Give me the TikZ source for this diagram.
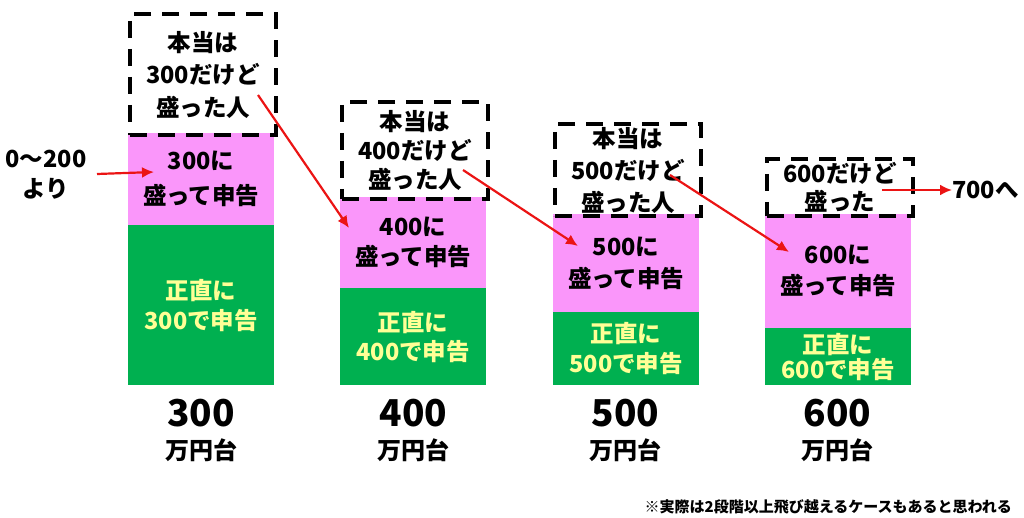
\documentclass[tikz,border=0pt]{standalone}
\usepackage{fontspec}
\newfontfamily\jp{Noto Sans CJK JP}
\usetikzlibrary{arrows.meta}
\definecolor{pinkc}{RGB}{250,150,250}
\definecolor{greenc}{RGB}{0,176,80}
\definecolor{yelc}{RGB}{255,255,150}
\definecolor{redc}{RGB}{235,20,20}
\tikzset{
  boxbase/.style={anchor=north west, inner sep=0pt, align=center, minimum width=146pt,
    font=\jp\bfseries\fontsize{23.5}{#1}\selectfont},
  pinkbox/.style={boxbase=#1, fill=pinkc, text=black},
  greenbox/.style={boxbase=#1, fill=greenc, text=yelc},
  dbox/.style={boxbase=#1, draw=black, line width=4pt, dash pattern=on 17pt off 11pt, text=black},
  redarrow/.style={draw=redc, line width=2.2pt, -{Latex[length=12pt,width=11pt]}},
  biglabel/.style={font=\jp\bfseries\fontsize{37}{40}\selectfont, inner sep=0pt},
  unitlabel/.style={font=\jp\bfseries\fontsize{24}{26}\selectfont, inner sep=0pt},
  sidelabel/.style={font=\jp\bfseries\fontsize{23.5}{30}\selectfont, inner sep=0pt, align=center},
}
\begin{document}
\begin{tikzpicture}[x=1pt,y=-1pt]
\useasboundingbox (0,0) rectangle (1024,518);
% column 1
\node[greenbox=30, minimum height=160pt] (g1) at (128,225) {正直に\\300で申告};
\node[pinkbox=35, minimum height=92pt] (p1) at (128,133) {300に\\盛って申告};
\node[dbox=32.5, minimum height=121pt] (d1) at (128,12) {本当は\\300だけど\\盛った人};
% column 2
\node[greenbox=29, minimum height=97pt] (g2) at (340,288) {正直に\\400で申告};
\node[pinkbox=30, minimum height=91pt] (p2) at (340,197) {400に\\盛って申告};
\node[dbox=29, minimum height=97pt] (d2) at (340,100) {本当は\\400だけど\\盛った人};
% column 3
\node[greenbox=30, minimum height=73pt] (g3) at (553,312) {正直に\\500で申告};
\node[pinkbox=32, minimum height=98pt] (p3) at (553,214) {500に\\盛って申告};
\node[dbox=32, minimum height=92pt] (d3) at (553,122) {本当は\\500だけど\\盛った人};
% column 4
\node[greenbox=25, minimum height=57pt] (g4) at (765,328) {正直に\\600で申告};
\node[pinkbox=31, minimum height=114pt] (p4) at (765,214) {600に\\盛って申告};
\node[dbox=28, minimum height=57pt] (d4) at (765,157) {600だけど\\盛った};
% bottom labels
\node[biglabel] (n1) at (201,413) {300};
\node[unitlabel] (u1) at (201,450) {万円台};
\node[biglabel] (n2) at (413.5,413) {400};
\node[unitlabel] (u2) at (413.5,450) {万円台};
\node[biglabel] (n3) at (625.5,413) {500};
\node[unitlabel] (u3) at (625.5,450) {万円台};
\node[biglabel] (n4) at (837.5,413) {600};
\node[unitlabel] (u4) at (837.5,450) {万円台};
% side labels
\node[sidelabel] (s0) at (46,175) {0〜200\\より};
\node[sidelabel, anchor=west] (s7) at (952,190) {700へ};
% footnote
\node[font=\jp\bfseries\fontsize{15}{18}\selectfont, inner sep=0pt, anchor=east] (fn) at (1012,507) {※実際は2段階以上飛び越えるケースもあると思われる};
% arrows
\coordinate (a0s) at (97,174);
\coordinate (a0e) at (154,172);
\coordinate (a1s) at (258,95);
\coordinate (a1e) at (349,228);
\coordinate (a2s) at (463,170);
\coordinate (a2e) at (578,246);
\coordinate (a3s) at (670,175);
\coordinate (a3e) at (789,252);
\coordinate (a4s) at (882,190);
\draw[redarrow] (a0s) -- (a0e);
\draw[redarrow] (a1s) -- (a1e);
\draw[redarrow] (a2s) -- (a2e);
\draw[redarrow] (a3s) -- (a3e);
\draw[redarrow] (a4s) -- (s7.west);
\end{tikzpicture}
\end{document}
